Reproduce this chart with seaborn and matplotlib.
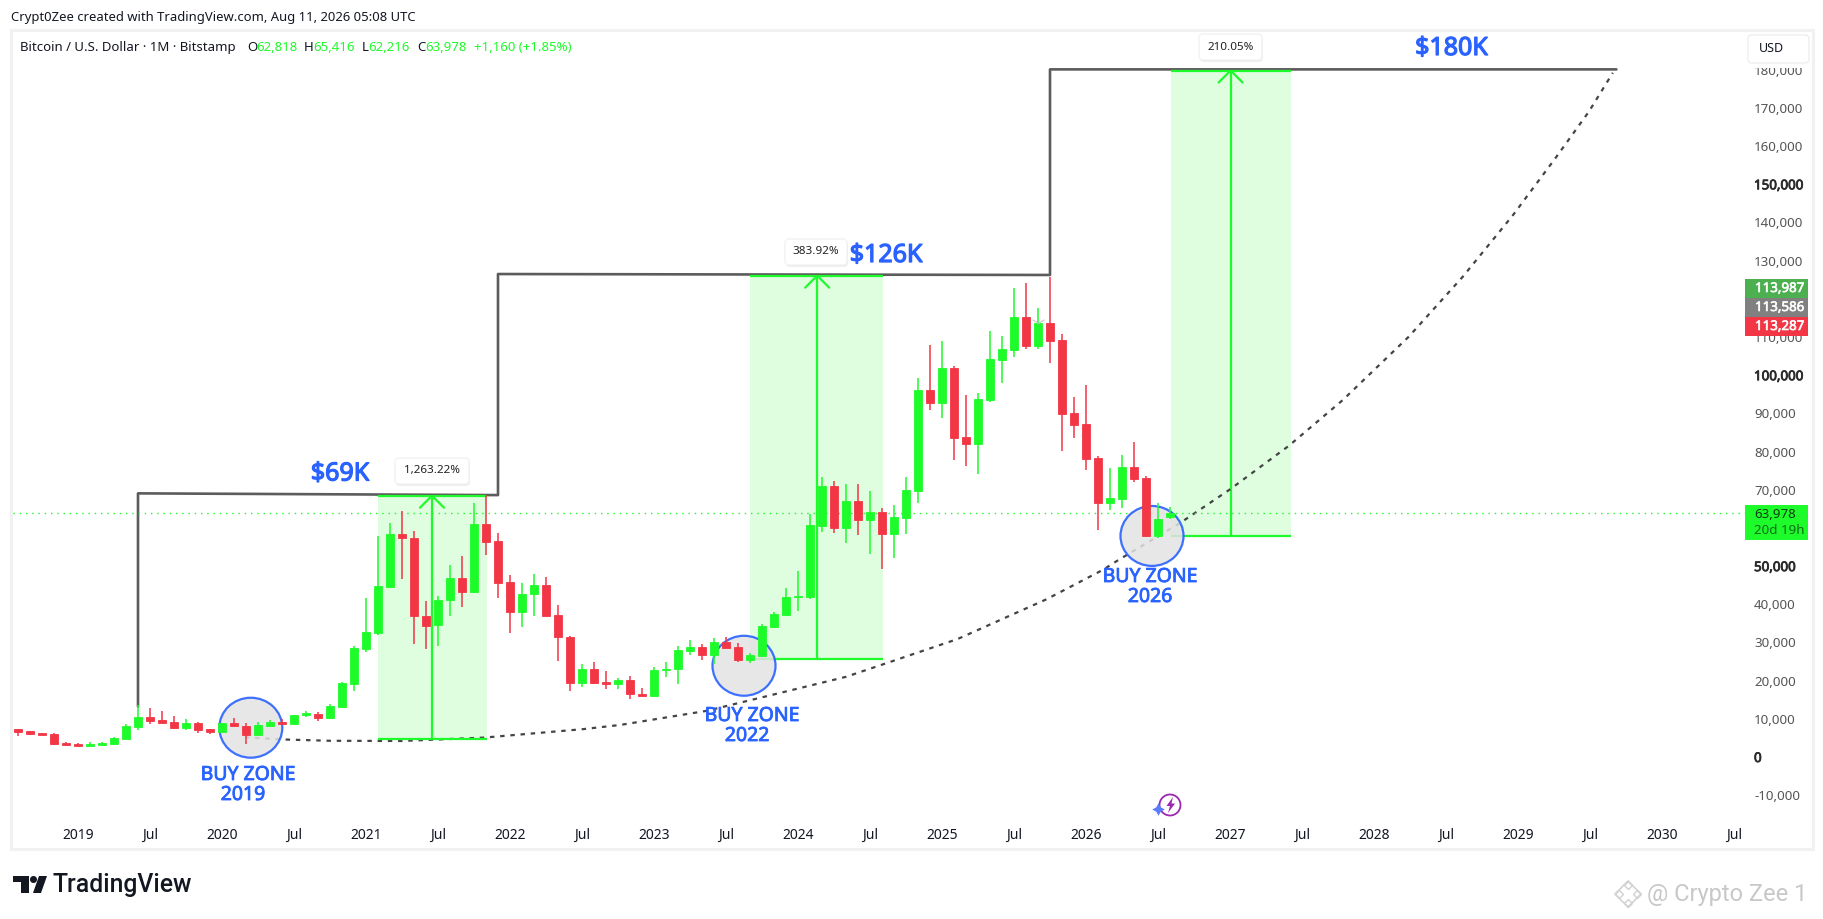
import numpy as np
import pandas as pd
import matplotlib
matplotlib.use("Agg")
import matplotlib.pyplot as plt
import matplotlib.patheffects as pe
import seaborn as sns
from matplotlib.patches import Rectangle, Ellipse, FancyBboxPatch, Polygon

# monthly candles, thousand USD, first one is Aug 2018 (month index -5, 0 = Jan 2019)
first_month = -5
opens = [7.25, 6.8, 6.2, 6.0, 3.6, 3.4, 3.0, 3.15, 3.5, 4.8, 7.9, 10.4, 9.7, 9.1, 7.6, 8.8, 7.25,
         6.6, 8.8, 8.0, 5.85, 8.1, 9.1, 8.65, 11.0, 11.3, 10.2, 13.1, 19.2,
         28.3, 32.5, 44.5, 58.4, 57.3, 36.9, 34.5, 41.0, 46.9, 43.2, 61.0, 56.6,
         45.8, 38.1, 42.7, 45.05, 37.2, 31.4, 19.5, 23.05, 19.6, 19.0, 20.2, 16.6,
         16.0, 22.8, 23.1, 27.8, 28.8, 26.8, 30.1, 28.8, 25.4, 26.5, 34.0, 37.2,
         41.9, 42.0, 60.6, 71.0, 60.1, 67.0, 62.2, 64.2, 58.5, 62.6, 69.7, 96.1,
         92.8, 101.9, 83.8, 82.1, 93.5, 104.0, 106.6, 115.2, 107.6, 113.7, 109.2, 90.1,
         87.2, 78.3, 66.4, 67.6, 76.0, 73.1, 57.9, 62.818]
closes = [6.64, 6.1, 5.85, 3.5, 3.15, 3.0, 3.4, 3.7, 5.0, 8.1, 10.5, 9.5, 9.0, 7.7, 8.8, 7.15, 6.6,
          8.8, 8.0, 5.85, 8.3, 9.1, 8.65, 11.0, 11.4, 10.2, 13.4, 19.4, 28.6,
          32.7, 44.8, 58.4, 57.3, 36.8, 34.4, 41.1, 47.0, 43.2, 61.0, 56.4, 45.7,
          38.1, 42.7, 45.05, 37.0, 31.3, 19.5, 23.05, 19.5, 19.0, 20.2, 16.5, 16.0,
          22.8, 23.1, 28.0, 28.8, 26.7, 30.1, 28.6, 25.4, 26.7, 34.3, 37.45, 41.9,
          42.2, 60.8, 71.0, 60.1, 67.05, 62.2, 64.2, 58.5, 62.9, 70.0, 96.1, 92.8,
          101.9, 83.6, 82.1, 93.8, 104.2, 106.9, 115.2, 107.6, 113.7, 109.0, 89.9, 87.0,
          78.1, 66.4, 67.8, 76.0, 72.8, 57.9, 62.3, 63.978]
highs = [7.3, 6.9, 6.4, 6.2, 3.85, 3.6, 3.95, 3.95, 5.2, 8.6, 13.5, 12.75, 12.05, 10.7, 10.0, 9.1, 7.4,
         9.0, 10.2, 8.8, 9.1, 9.7, 10.0, 11.0, 12.05, 11.8, 13.9, 19.65, 29.1,
         41.6, 57.9, 61.3, 64.4, 59.2, 40.9, 42.2, 50.2, 52.6, 66.5, 68.6, 58.7,
         47.7, 45.6, 47.9, 47.1, 39.8, 31.7, 24.4, 24.9, 22.5, 20.7, 21.2, 18.1,
         23.6, 24.9, 29.1, 30.65, 29.6, 31.2, 31.4, 29.9, 27.2, 34.8, 38.0, 44.3,
         48.7, 63.6, 73.3, 72.3, 71.5, 71.5, 69.7, 65.2, 66.0, 73.3, 99.3, 107.9,
         109.0, 102.4, 94.8, 95.3, 111.6, 110.3, 122.8, 124.1, 117.6, 125.7, 110.8, 94.3,
         97.4, 78.8, 75.7, 79.1, 82.5, 73.6, 66.5, 65.416]
lows = [5.6, 5.8, 5.8, 3.2, 3.0, 2.9, 2.9, 3.05, 3.4, 4.7, 7.2, 8.7, 8.8, 7.3, 7.0, 6.4, 6.0,
        6.5, 7.95, 3.4, 5.8, 7.85, 8.6, 8.6, 10.5, 9.5, 9.95, 13.0, 17.4,
        27.6, 32.0, 44.5, 46.7, 29.7, 28.4, 29.2, 37.0, 39.3, 43.0, 52.9, 41.7,
        32.5, 34.1, 36.9, 37.0, 25.2, 17.4, 18.3, 19.1, 17.8, 17.8, 15.2, 16.0,
        16.0, 21.0, 19.1, 26.7, 25.4, 24.4, 28.6, 24.9, 24.6, 26.2, 33.8, 37.2,
        38.2, 41.4, 59.0, 58.7, 56.0, 58.1, 53.2, 49.2, 52.1, 58.4, 66.5, 90.9,
        88.8, 77.8, 76.2, 74.1, 93.0, 98.0, 104.8, 106.9, 106.9, 103.2, 80.1, 83.6,
        75.2, 59.4, 64.7, 65.2, 72.0, 57.6, 57.4, 62.216]

# curve under the lows
curve_month = [13.9, 17.0, 21.0, 27.0, 33.8, 42.1, 45.2, 52.4, 64.0, 67.3, 73.3, 80.7, 85.4, 86.7,
               91.8, 96.0, 100.9, 105.4, 110.9, 115.4, 119.6, 123.2, 125.9, 127.9]
curve_k = [5.15, 4.6, 4.25, 4.2, 5.07, 7.3, 8.4, 12.1, 21.0, 24.5, 30.9, 41.3, 49.0, 51.6,
           61.2, 70.1, 81.5, 93.5, 110.1, 125.8, 142.0, 157.2, 169.0, 179.2]

# stepped resistance line
step_month = [5.0, 5.0, 35.0, 35.0, 81.0, 81.0, 128.2]
step_k = [13.2, 69.05, 68.6, 126.5, 126.25, 180.1, 180.1]

# measured moves
box_left = [25.0, 56.0, 91.1]
box_right = [34.1, 67.1, 101.1]
box_low = [4.8, 25.76, 58.0]
box_high = [68.45, 126.07, 179.8]
box_arrow = [29.5, 61.6, 96.05]

# buy zones
zone_month = [14.4, 55.5, 89.5]
zone_k = [7.67, 23.9, 57.9]

last_close = 63.978
# 60,000 and 120,000 sit behind the price tags, so the reference shows neither
price_ticks = [-10000, 0, 10000, 20000, 30000, 40000, 50000, 70000, 80000, 90000, 100000,
               110000, 130000, 140000, 150000, 160000, 170000, 180000]
bold_ticks = [0, 50000, 100000, 150000]
x_tick_labels = ["2019", "Jul", "2020", "Jul", "2021", "Jul", "2022", "Jul", "2023", "Jul", "2024", "Jul",
                 "2025", "Jul", "2026", "Jul", "2027", "Jul", "2028", "Jul", "2029", "Jul", "2030", "Jul"]

GREEN = "#1efb2a"
RED = "#f23645"
BLUE = "#2962ff"
SHADE = "#dffddf"
W, H = 1824, 919
AX_RIGHT = 1745


def heavy(color, width=0.5):
    # Noto Sans only comes in regular here, a thin stroke gives the heavier weight
    return [pe.withStroke(linewidth=width, foreground=color)]


df = pd.DataFrame({"open": opens, "high": highs, "low": lows, "close": closes}) * 1000
df["month"] = first_month + np.arange(len(df))
df["color"] = np.where(df["close"] >= df["open"], GREEN, RED)

sns.set_theme(style="white")
plt.rcParams["font.family"] = ["Noto Sans", "DejaVu Sans"]

fig = plt.figure(figsize=(W / 100, H / 100), dpi=100, facecolor="white")
ax = fig.add_axes([13 / W, 1 - 822 / H, (AX_RIGHT - 13) / W, (822 - 32) / H])
ax.set_xlim((13 - 78) / 12, (AX_RIGHT - 78) / 12)
ax.set_ylim((757 - 822) / 3.818 * 1000, (757 - 32) / 3.818 * 1000)
sns.despine(ax=ax, left=True, bottom=True, right=True, top=True)

# shaded boxes go first, the circles sit on them and the candles on top
for l, r, lo, hi, a in zip(box_left, box_right, box_low, box_high, box_arrow):
    ax.add_patch(Rectangle((l, lo * 1000), r - l, (hi - lo) * 1000, fc=SHADE, ec="none", zorder=1))
    ax.plot([a, a], [lo * 1000, hi * 1000], color=GREEN, lw=1.6, zorder=2)
    ax.plot([a - 1, a, a + 1], [(hi - 3.14) * 1000, hi * 1000, (hi - 3.14) * 1000], color=GREEN, lw=1.6, zorder=2)

sns.lineplot(x=step_month, y=np.array(step_k) * 1000, ax=ax, color="#5c5c5c", lw=1.9,
             estimator=None, sort=False, legend=False, zorder=2)
sns.lineplot(x=curve_month, y=np.array(curve_k) * 1000, ax=ax, color="#444444", lw=1.6,
             linestyle=(0, (2, 2.6)), estimator=None, sort=False, legend=False, zorder=2)
ax.axhline(last_close * 1000, color=GREEN, lw=1, linestyle=(0, (1, 3.5)), zorder=2)
for l, r, lo, hi in zip(box_left, box_right, box_low, box_high):
    ax.hlines([lo * 1000, hi * 1000], l, r, color=GREEN, lw=1.6, zorder=2.5)

for m, k in zip(zone_month, zone_k):
    ax.add_patch(Ellipse((m, k * 1000), 5.25, 15700, fc="#e3e3e3", ec="none", alpha=0.85, zorder=3))
    ax.add_patch(Ellipse((m, k * 1000), 5.25, 15700, fc="none", ec=BLUE, lw=1.6, alpha=0.9, zorder=3))

ax.vlines(df["month"], df["low"], df["high"], color=df["color"], lw=1.1, zorder=4)
ax.bar(df["month"], (df["close"] - df["open"]).abs(), bottom=df[["open", "close"]].min(axis=1),
       width=0.72, color=df["color"], edgecolor=df["color"], lw=0.6, zorder=5)

ax.set_xticks(np.arange(0, 144, 6))
ax.set_xticklabels(x_tick_labels, fontsize=10, color="#131722")
ax.yaxis.tick_right()
ax.set_yticks(price_ticks)
ax.set_yticklabels([f"{v:,}" for v in price_ticks], fontsize=9.6, color="#555555")
for lab, v in zip(ax.get_yticklabels(), price_ticks):
    if v in bold_ticks:
        lab.set_color("#2a2a2a")
        lab.set_path_effects(heavy("#2a2a2a", 0.6))
ax.tick_params(axis="both", length=0)
ax.tick_params(axis="y", pad=6.5)
ax.tick_params(axis="x", pad=4.5)

# overlay in image pixels for the TradingView furniture
ov = fig.add_axes([0, 0, 1, 1], zorder=10)
ov.set_xlim(0, W)
ov.set_ylim(H, 0)
ov.axis("off")
ov.patch.set_alpha(0)

ov.add_patch(Rectangle((11, 30), 1802, 819, fc="none", ec="#f0f1f3", lw=2.2))

ov.text(11, 17, "Crypt0Zee created with TradingView.com, Aug 11, 2026 05:08 UTC", fontsize=9.4, color="#131722", va="center")
ov.text(20, 47.5, "Bitcoin / U.S. Dollar · 1M · Bitstamp", fontsize=9.5, color="#131722", va="center")
for xp, s, c in [(247, "O", "#131722"), (256, "62,818", GREEN), (304, "H", "#131722"), (313, "65,416", GREEN),
                 (362, "L", "#131722"), (368, "62,216", GREEN), (417, "C", "#131722"), (425, "63,978", GREEN),
                 (474, "+1,160 (+1.85%)", GREEN)]:
    ov.text(xp, 47.5, s, fontsize=9.5, color=c, va="center")

# USD box covers the top of the 180,000 label
ov.add_patch(Rectangle((1746, 33), 65, 35, fc="white", ec="none"))
ov.add_patch(FancyBboxPatch((1748, 35), 61, 28, boxstyle="round,pad=0,rounding_size=4", fc="white", ec="#eeeeee", lw=1))
ov.text(1759, 49, "USD", fontsize=9, color="#131722", va="center")

for y0, y1, c, s in [(279, 298, "#4caf50", "113,987"), (298, 317, "#808080", "113,586"), (317, 336, RED, "113,287")]:
    ov.add_patch(Rectangle((1745, y0), 63, y1 - y0, fc=c, ec="none"))
    ov.text(1755, (y0 + y1) / 2, s, fontsize=9.6, color="white", va="center", alpha=0.9, path_effects=heavy("white", 0.5))
ov.add_patch(Rectangle((1745, 505), 63, 35, fc=GREEN, ec="none"))
ov.text(1754, 514, "63,978", fontsize=9.6, color="#0c3d10", va="center")
ov.text(1754, 531, "20d 19h", fontsize=9.6, color="#0f6b1a", va="center")

for xp, yp, s in [(340, 474, "$69K"), (886, 255.5, "$126K"), (1451.5, 48.5, "$180K")]:
    ov.text(xp, yp, s, fontsize=18, color=BLUE, ha="center", va="center", path_effects=heavy(BLUE, 0.9))

for x0, x1, y0, y1, s in [(395, 469, 458, 484, "1,263.22%"), (785, 847, 239, 265, "383.92%"), (1199, 1262, 34, 60, "210.05%")]:
    ov.add_patch(FancyBboxPatch((x0 + 1, y0 + 2), x1 - x0, y1 - y0, boxstyle="round,pad=0,rounding_size=4",
                                fc="#eeeeee", ec="none", zorder=1))
    ov.add_patch(FancyBboxPatch((x0, y0), x1 - x0, y1 - y0, boxstyle="round,pad=0,rounding_size=4",
                                fc="white", ec="#f2f2f2", lw=1, zorder=1.5))
    ov.text((x0 + x1) / 2, (y0 + y1) / 2, s, fontsize=8.4, color="#222222", ha="center", va="center", zorder=2)

for xa, ya, xb, yb, s in [(248, 775, 243, 795, "2019"), (752, 716, 747, 736, "2022"), (1150, 577, 1150, 597, "2026")]:
    ov.text(xa, ya, "BUY ZONE", fontsize=14, color=BLUE, ha="center", va="center", path_effects=heavy(BLUE, 0.6))
    ov.text(xb, yb, s, fontsize=14, color=BLUE, ha="center", va="center", path_effects=heavy(BLUE, 0.6))

# faint hidden tool mark behind the Sep 2025 candle
ov.plot([1033, 1038.5, 1044], [320, 323.5, 320], color="#c4c4c4", lw=0.8, zorder=0)

# assistant icon
ov.add_patch(Ellipse((1170, 805), 21, 21, fc="none", ec="#9c27b0", lw=1.3))
ov.add_patch(Polygon([(1173, 797), (1166.5, 806), (1170, 806), (1168, 813), (1175, 803.5), (1171.5, 803.5)],
                     fc="#9c27b0", ec="none"))
ov.plot([1158.5], [809], marker=(4, 1, 0), ms=9, color="#5b7cfa", mec="none")

# TradingView logo
ov.add_patch(Polygon([(13, 876), (29, 876), (29, 893), (21, 893), (21, 882), (13, 882)], fc="#131722", ec="none"))
ov.add_patch(Ellipse((33.5, 879.5), 7, 7, fc="#131722", ec="none"))
ov.add_patch(Polygon([(39, 876), (47, 876), (41, 893), (33, 893)], fc="#131722", ec="none"))
ov.text(53, 885, "TradingView", fontsize=17.8, color="#131722", family=["Roboto", "DejaVu Sans"], fontweight="medium", va="center")

# watermark
ov.plot([1628.5], [894], marker="D", ms=13, mfc="none", mec="#d2d2d2", mew=1.2)
for dx, dy in [(0, -9), (-9, 0), (9, 0), (0, 9)]:
    ov.plot([1628.5 + dx], [894 + dy], marker="D", ms=4.5, mfc="none", mec="#d2d2d2", mew=1)
ov.text(1647, 894, "@ Crypto Zee 1", fontsize=17, color="#c8c8c8", family=["Roboto", "DejaVu Sans"], va="center")

fig.savefig("out.png", dpi=100)
